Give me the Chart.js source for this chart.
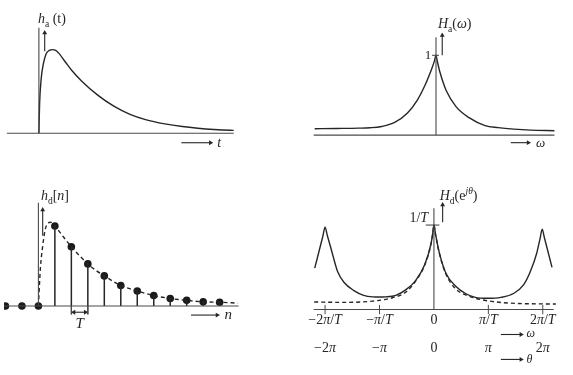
<!DOCTYPE html>
<html>
<head>
<meta charset="utf-8">
<script src="https://cdn.jsdelivr.net/npm/chart.js@4"></script>
<style>
body { margin:0; background:#fff; width:573px; height:375px; position:relative; overflow:hidden }
.box { position:absolute }
</style>
</head>
<body>
<div class="box" style="left:0px;top:0px;width:260px;height:160px"><canvas id="c1"></canvas></div>
<div class="box" style="left:300px;top:0px;width:273px;height:160px"><canvas id="c2"></canvas></div>
<div class="box" style="left:0px;top:175px;width:260px;height:165px"><canvas id="c3"></canvas></div>
<div class="box" style="left:290px;top:175px;width:283px;height:200px"><canvas id="c4"></canvas></div>
<script>
// ---------------------------------------------------------------
// panel 1 : h_a(t)
const t_vals  = [0, 0.035, 0.115, 0.235, 0.365, 0.535, 0.7, 0.865, 1.035, 1.365, 1.7, 2.2, 3.035, 3.865, 4.7, 5.5, 6.5, 7.4, 8.2, 9.03, 9.87, 10.05]
const ha_vals = [0, 0.34, 0.644, 0.834, 0.945, 0.99, 1.0, 0.99, 0.955, 0.852, 0.75, 0.625, 0.455, 0.323, 0.225, 0.163, 0.112, 0.08, 0.06, 0.045, 0.035, 0.034]

// panel 2 : H_a(w)
const w_vals  = [-6.25, -5.1, -4.0, -3.4, -2.8, -2.13, -1.47, -0.97, -0.55, -0.22, -0.08, 0, 0.07, 0.2, 0.53, 1.03, 1.7, 2.53, 3.2, 4.0, 4.87, 6.1]
const Ha_vals = [0.08, 0.083, 0.087, 0.092, 0.108, 0.158, 0.277, 0.436, 0.635, 0.833, 0.93, 1.0, 0.92, 0.79, 0.555, 0.357, 0.218, 0.119, 0.094, 0.075, 0.062, 0.055]

// panel 3 : h_d[n]
const n_vals  = [-2, -1, 0, 1, 2, 3, 4, 5, 6, 7, 8, 9, 10, 11]
const hd_vals = [0, 0, 0, 0.955, 0.708, 0.503, 0.36, 0.245, 0.18, 0.125, 0.09, 0.068, 0.05, 0.045]
const env_n   = [0, 0.12, 0.25, 0.4, 0.55, 0.75, 1, 1.5, 2, 2.5, 3, 3.5, 4, 5, 6, 7, 8, 9, 10, 11, 12.1]
const env_h   = [0, 0.45, 0.7, 0.9, 0.985, 1.0, 0.955, 0.83, 0.708, 0.6, 0.503, 0.425, 0.36, 0.245, 0.18, 0.125, 0.09, 0.068, 0.05, 0.045, 0.035]

// panel 4 : H_d(e^jθ), θ in units of π
const th_vals = [-2.19, -2.04, -2.0, -1.96, -1.89, -1.77, -1.65, -1.47, -1.29, -1.12, -1.0, -0.88, -0.7, -0.52, -0.34, -0.17, -0.05, -0.02, 0,
                 0.03, 0.1, 0.22, 0.4, 0.58, 0.76, 0.99, 1.23, 1.47, 1.65, 1.77, 1.89, 1.95, 1.99, 2.03, 2.17]
const Hd_vals = [0.49, 0.87, 0.975, 0.88, 0.72, 0.45, 0.32, 0.225, 0.168, 0.15, 0.148, 0.15, 0.168, 0.233, 0.34, 0.53, 0.79, 0.91, 1.0,
                 0.89, 0.67, 0.43, 0.276, 0.19, 0.144, 0.133, 0.144, 0.193, 0.295, 0.447, 0.67, 0.84, 0.95, 0.85, 0.5]
const dash_th = [-2.2, -1.72, -1.12, -0.76, -0.52, -0.34, -0.17, -0.05, -0.02, 0, 0.03, 0.1, 0.22, 0.4, 0.64, 0.93, 1.41, 2.24]
const dash_h  = [0.09, 0.085, 0.1, 0.14, 0.205, 0.335, 0.525, 0.785, 0.905, 1.0, 0.885, 0.665, 0.42, 0.245, 0.16, 0.11, 0.076, 0.065]
const tick_th = [-2, -1, 0, 1, 2]
const tick_w_labels  = ['−2π/T', '−π/T', '0', 'π/T', '2π/T']
const tick_th_labels = ['−2π', '−π', '0', 'π', '2π']

const INK = '#262626'
const AXIS = '#4a4a4a'
const FONT = '"Liberation Serif", "DejaVu Serif", serif'

// ---------------------------------------------------------------
function pts(xs, ys)
{
	return xs.map((x, k) => ({ x: x, y: ys[k] }))
}

function curve(xs, ys, dash)
{
	return { data: pts(xs, ys), borderColor: INK, borderWidth: 1.4, pointRadius: 0,
		cubicInterpolationMode: 'monotone', borderDash: dash ? [4, 3] : [] }
}

function seg(x0, y0, x1, y1, w)
{
	return { data: [{x: x0, y: y0}, {x: x1, y: y1}], borderColor: AXIS, borderWidth: w || 1.1, pointRadius: 0 }
}

// line with an arrow head at its end (rot: 0 up, 90 right)
function arrow(x0, y0, x1, y1, rot, both)
{
	return { data: [{x: x0, y: y0}, {x: x1, y: y1}], borderColor: INK, borderWidth: 1.1,
		pointStyle: 'triangle', pointRadius: [both ? 2.8 : 0, 2.8],
		rotation: [both ? rot + 180 : 0, rot], pointBackgroundColor: INK, pointBorderColor: INK, pointBorderWidth: 0 }
}

function rich(ctx, x, y, parts, size, align)
{
	const fonts = parts.map(p => (p.i ? 'italic ' : '') + ((p.sub || p.sup) ? size * 0.68 : size) + 'px ' + FONT)
	var w = 0
	parts.forEach((p, k) => { ctx.font = fonts[k]; w += ctx.measureText(p.t).width })
	var cx = align === 'center' ? x - w / 2 : (align === 'right' ? x - w : x)
	parts.forEach((p, k) => {
		ctx.font = fonts[k]
		const dy = p.sub ? size * 0.28 : (p.sup ? -size * 0.42 : 0)
		ctx.fillText(p.t, cx, y + dy)
		cx += ctx.measureText(p.t).width
		})
}

function textLayer(items)
{
	return {
		id: 'textLayer',
		afterDatasetsDraw(chart) {
			const ctx = chart.ctx
			const sx = chart.scales.x
			const sy = chart.scales.y
			ctx.save()
			ctx.fillStyle = INK
			ctx.textBaseline = 'alphabetic'
			items.forEach(it => rich(ctx, sx.getPixelForValue(it.x), sy.getPixelForValue(it.y), it.parts, it.size || 14, it.align || 'left'))
			ctx.restore()
			}
		}
}

function tickParts(s)
{
	return s.split('').map(ch => ({ t: ch, i: /[πT]/.test(ch) }))
}

function makeChart(id, xr, yr, datasets, items)
{
	const config = {
		type: 'line',
		data: { datasets: datasets },
		options: {
			animation: false, responsive: true, maintainAspectRatio: false,
			layout: { padding: 0 },
			spanGaps: false,
			scales: {
				x: { type: 'linear', min: xr[0], max: xr[1], display: false, offset: false },
				y: { type: 'linear', min: yr[0], max: yr[1], display: false }
				},
			plugins: { legend: { display: false }, tooltip: { enabled: false } }
			},
		plugins: [textLayer(items)]
		}
	return new Chart(document.getElementById(id), config)
}

// ---------------------------------------------------------------
// panel 1
makeChart('c1', [-1.8, 11.2], [-0.2727, 1.5455], [
	seg(-1.65, 0, 10.05, 0),
	seg(0, 0, 0, 1.26),
	curve(t_vals, ha_vals),
	arrow(0.3, 0.98, 0.3, 1.2, 0),
	arrow(7.35, -0.114, 8.85, -0.114, 90)
	], [
	{ x: -0.05, y: 1.32, parts: [{t: 'h', i: 1}, {t: 'a', sub: 1}, {t: ' (t)'}] },
	{ x: 9.2, y: -0.16, parts: [{t: 't', i: 1}] }
	])

// panel 2
makeChart('c2', [-6.8, 6.85], [-0.262, 1.643], [
	seg(-6.3, 0, 6.1, 0),
	seg(0, 0, 0, 1.226),
	seg(-0.2, 1.0, 0.15, 1.0),
	curve(w_vals, Ha_vals),
	arrow(0.32, 1.0, 0.32, 1.25, 0),
	arrow(3.85, -0.095, 4.75, -0.095, 90)
	], [
	{ x: 0.1, y: 1.345, parts: [{t: 'H', i: 1}, {t: 'a', sub: 1}, {t: '('}, {t: 'ω', i: 1}, {t: ')'}] },
	{ x: -0.25, y: 0.95, parts: [{t: '1'}], align: 'right', size: 13 },
	{ x: 5.15, y: -0.143, parts: [{t: 'ω', i: 1}], size: 13 }
	])

// panel 3
const stems = []
n_vals.forEach((n, k) => {
	if (hd_vals[k] > 0)
		{
		stems.push({x: n, y: 0}, {x: n, y: hd_vals[k]}, {x: n, y: null})
		}
	})

makeChart('c3', [-2.088, 13.206], [-0.358, 1.517], [
	seg(-2.088, 0, 12.15, 0),
	seg(0, 0, 0, 1.233),
	seg(2, 0, 2, -0.1, 1),
	seg(3, 0, 3, -0.1, 1),
	{ data: stems, borderColor: INK, borderWidth: 1.5, pointRadius: 0, spanGaps: false },
	curve(env_n, env_h, true),
	{ data: pts(n_vals, hd_vals), showLine: false, pointRadius: 3.8, pointBackgroundColor: '#1a1a1a', pointBorderWidth: 0 },
	arrow(0.26, 0.84, 0.26, 1.15, 0),
	arrow(2.15, -0.074, 2.85, -0.074, 90, true),
	arrow(9.26, -0.108, 10.85, -0.108, 90)
	], [
	{ x: 0.15, y: 1.267, parts: [{t: 'h', i: 1}, {t: 'd', sub: 1}, {t: '['}, {t: 'n', i: 1}, {t: ']'}] },
	{ x: 2.5, y: -0.267, parts: [{t: 'T', i: 1}], align: 'center', size: 15 },
	{ x: 11.3, y: -0.153, parts: [{t: 'n', i: 1}], size: 15 }
	])

// panel 4
const ticks4 = []
tick_th.forEach(v => { if (v !== 0) ticks4.push(seg(v, -0.055, v, 0.055, 1)) })
const labels4 = []
tick_th.forEach((v, k) => {
	labels4.push({ x: v, y: -0.17, parts: tickParts(tick_w_labels[k]), align: 'center' })
	labels4.push({ x: v, y: -0.5, parts: tickParts(tick_th_labels[k]), align: 'center' })
	})

makeChart('c4', [-2.571, 2.482], [-0.727, 1.545], [
	seg(-2.21, 0, 2.2, 0),
	seg(0, 0, 0, 1.2),
	seg(-0.15, 1.0, 0.1, 1.0),
	...ticks4,
	curve(dash_th, dash_h, true),
	curve(th_vals, Hd_vals),
	arrow(0.16, 1.034, 0.16, 1.24, 0),
	arrow(1.23, -0.295, 1.6, -0.295, 90),
	arrow(1.23, -0.59, 1.6, -0.59, 90)
	], [
	{ x: 0.107, y: 1.295, parts: [{t: 'H', i: 1}, {t: 'd', sub: 1}, {t: '(e'}, {t: 'jθ', sup: 1, i: 1}, {t: ')'}] },
	{ x: -0.107, y: 1.034, parts: [{t: '1/'}, {t: 'T', i: 1}], align: 'right' },
	{ x: 1.7, y: -0.33, parts: [{t: 'ω', i: 1}], size: 12 },
	{ x: 1.7, y: -0.636, parts: [{t: 'θ', i: 1}], size: 12 },
	...labels4
	])
</script>
</body>
</html>
